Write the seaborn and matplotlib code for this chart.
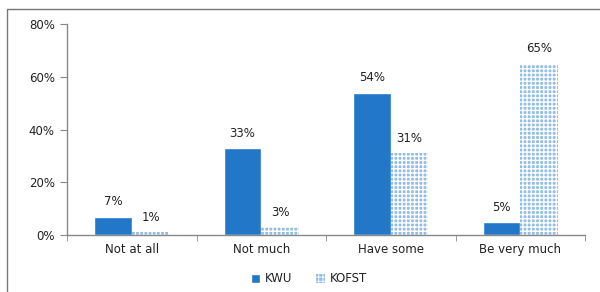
import matplotlib
matplotlib.use("Agg")
import matplotlib.pyplot as plt
import seaborn as sns
import pandas as pd
from matplotlib.patches import Rectangle, Patch
from matplotlib.ticker import FixedLocator, PercentFormatter

# ---------------------------
# Data
# ---------------------------
categories = ["Not at all", "Not much", "Have some", "Be very much"]
groups = ["KWU", "KOFST"]
kwu = [7, 33, 54, 5]
kofst = [1, 3, 31, 65]

df = pd.DataFrame({
    "category": categories * 2,
    "group": ["KWU"] * len(kwu) + ["KOFST"] * len(kofst),
    "value": kwu + kofst,
})

kwu_color = "#2277C9"
kofst_color = "#93BDE6"

sns.set_style("white")
plt.rcParams["font.family"] = ["DejaVu Sans"]

fig = plt.figure(figsize=(6, 2.92), dpi=100)
ax = fig.add_axes([0.112, 0.195, 0.863, 0.723])

sns.barplot(data=df, x="category", y="value", hue="group", order=categories,
            hue_order=groups, palette=[kwu_color, kofst_color], width=0.58,
            saturation=1, ax=ax, legend=False)

# pattern on KOFST bars
for bar in ax.containers[1]:
    bar.set_hatch("++++")
    bar.set_edgecolor("white")
    bar.set_linewidth(0)
plt.rcParams["hatch.linewidth"] = 0.6
plt.rcParams["hatch.color"] = "white"

for cont in ax.containers:
    ax.bar_label(cont, fmt="%d%%", padding=6, fontsize=8.5, color="#222222")

ax.set_ylim(0, 80)
ax.set_yticks([0, 20, 40, 60, 80])
ax.yaxis.set_major_formatter(PercentFormatter(decimals=0))
ax.set_xlim(-0.5, 3.5)
ax.set_xlabel("")
ax.set_ylabel("")

ax.xaxis.set_minor_locator(FixedLocator([-0.5, 0.5, 1.5, 2.5, 3.5]))
ax.tick_params(axis="x", which="major", length=0, pad=6, labelsize=8.5, labelcolor="#222222")
ax.tick_params(axis="x", which="minor", length=4, color="#888888", direction="out", bottom=True)
ax.tick_params(axis="y", length=5, color="#888888", direction="out", left=True,
               labelsize=8.5, labelcolor="#222222", pad=4)

for side in ["top", "right"]:
    ax.spines[side].set_visible(False)
for side in ["left", "bottom"]:
    ax.spines[side].set_color("#888888")
    ax.spines[side].set_linewidth(1)

# legend
handles = [Patch(facecolor=kwu_color, label="KWU"),
           Patch(facecolor=kofst_color, hatch="++++", edgecolor="white", linewidth=0, label="KOFST")]
fig.legend(handles=handles, loc="center", bbox_to_anchor=(0.515, 0.045), ncol=2,
           frameon=False, fontsize=8.5, handlelength=0.8, handleheight=0.8,
           handletextpad=0.4, columnspacing=2.0, labelcolor="#222222")

# outer chart border
fig.patches.append(Rectangle((7 / 600, -0.1), 1.2, 1.1 - 9 / 292 + 0.0, transform=fig.transFigure,
                             fill=False, edgecolor="#777777", linewidth=1))

fig.savefig("out.png", dpi=100)
